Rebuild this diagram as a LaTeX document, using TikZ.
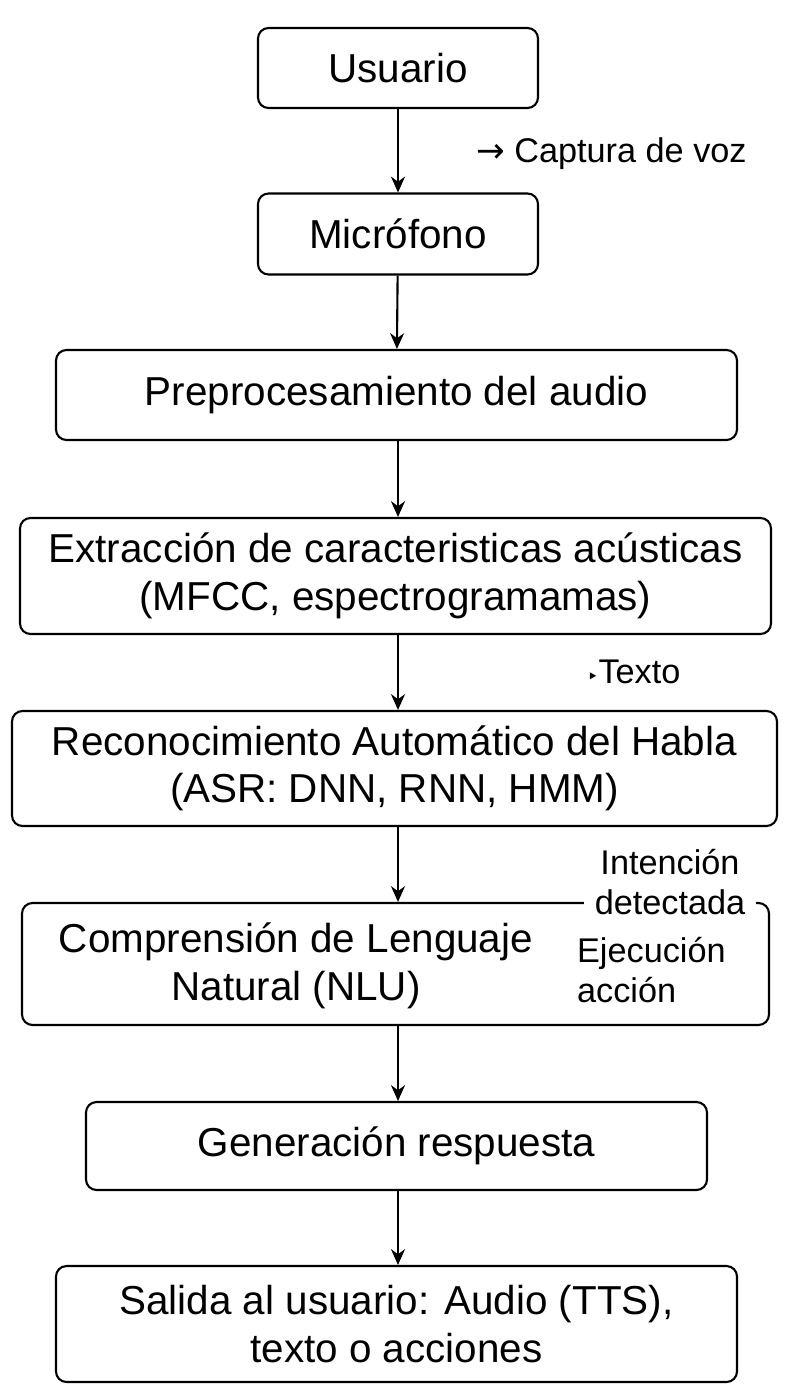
\documentclass[tikz,border=0pt]{standalone}
\usepackage{fontspec}
\setmainfont{Liberation Sans}
\newfontfamily\symfont{DejaVu Sans}
\usetikzlibrary{arrows.meta}

\tikzset{
    box/.style={draw, line width=1.2pt, rounded corners=6pt, align=center, font=\fontsize{23}{27}\selectfont, inner sep=0pt},
    note/.style={font=\fontsize{19.5}{23}\selectfont, inner sep=1pt},
    flow/.style={-{Stealth[length=9pt,width=8pt]}, line width=1.2pt}
}

\begin{document}
\begin{tikzpicture}[x=0.02cm, y=-0.02cm]

    \useasboundingbox (0,0) rectangle (794,1398);

    \node[box, minimum width=280*0.02cm, minimum height=80*0.02cm] (user) at (398,68) {Usuario};
    \node[box, minimum width=280*0.02cm, minimum height=81*0.02cm] (mic) at (398,234) {Micrófono};
    \node[box, minimum width=681*0.02cm, minimum height=90*0.02cm] (pre) at (396.5,395) {Preprocesamiento del audio};
    \node[box, minimum width=751*0.02cm, minimum height=116*0.02cm] (feat) at (395.5,576) {Extracción de caracteristicas acústicas\\(MFCC, espectrogramamas)};
    \node[box, minimum width=765*0.02cm, minimum height=115*0.02cm] (asr) at (394.5,768.5) {Reconocimiento Automático del Habla\\(ASR: DNN, RNN, HMM)};
    \node[box, minimum width=747*0.02cm, minimum height=122*0.02cm] (nlu) at (395.5,964) {};
    \node[box, minimum width=621*0.02cm, minimum height=88*0.02cm] (gen) at (396.5,1146) {Generación respuesta};
    \node[box, minimum width=681*0.02cm, minimum height=116*0.02cm] (out) at (396.5,1324) {Salida al usuario: Audio (TTS),\\texto o acciones};

    % texts inside the NLU box
    \node[align=center, font=\fontsize{23}{27}\selectfont] (nlutext) at (296,966) {Comprensión de Lenguaje\\Natural (NLU)};
    \node[note, align=left, anchor=west] (act) at (575,970) {Ejecución\\acción};
    \node[note, align=center, fill=white, inner xsep=6pt] (intent) at (670,882) {Intención\\detectada};

    % side notes
    \node[note, anchor=west] (voice) at (474,154) {{\symfont →} Captura de voz};
    \node[note, anchor=west] (text) at (585,672) {{\symfont\fontsize{11}{12}\selectfont ‣}Texto};

    \draw[flow] (user) -- (mic);
    \draw[flow] (mic) -- (pre);
    \draw[flow] (pre.south -| mic) -- (feat.north -| mic);
    \draw[flow] (feat.south -| mic) -- (asr.north -| mic);
    \draw[flow] (asr.south -| mic) -- (nlu.north -| mic);
    \draw[flow] (nlu.south -| mic) -- (gen.north -| mic);
    \draw[flow] (gen.south -| mic) -- (out.north -| mic);

\end{tikzpicture}
\end{document}
